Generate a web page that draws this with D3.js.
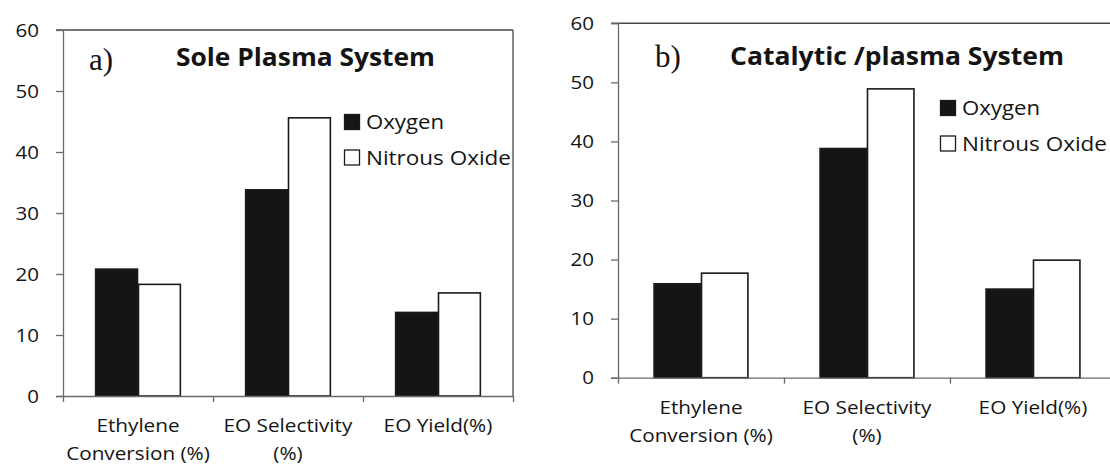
<!DOCTYPE html>
<html>
<head>
<meta charset="utf-8">
<script src="https://cdn.jsdelivr.net/npm/d3@7"></script>
<style>
  html, body { margin: 0; padding: 0; background: #fff; }
  svg { display: block; }
  text { font-family: "Open Sans", "Noto Sans", sans-serif; fill: #141414; }
</style>
</head>
<body>
<svg id="chart" width="1110" height="465"></svg>
<script>
// Category labels (split over lines as on the axis)
const categories = ["Ethylene Conversion (%)", "EO Selectivity (%)", "EO Yield(%)"];
const categoryLines = [["Ethylene", "Conversion (%)"], ["EO Selectivity", "(%)"], ["EO Yield(%)"]];
const seriesNames = ["Oxygen", "Nitrous Oxide"];
const yTicks = [0, 10, 20, 30, 40, 50, 60];

// a) Sole plasma system
const soleOxygen = [20.8, 33.8, 13.7];
const soleNitrous = [18.3, 45.6, 16.9];
// b) Catalytic/plasma system
const catOxygen = [15.9, 38.8, 15.0];
const catNitrous = [17.7, 48.9, 19.9];

const svg = d3.select("#chart");
const LINE = "#6a6a6a";
const STRETCH = 1.12;   // Calibri-like wide set of the labels

function stretchText(sel, factor) {
  sel.each(function () {
    const w = this.getComputedTextLength();
    if (w > 0) {
      d3.select(this).attr("textLength", w * factor).attr("lengthAdjust", "spacingAndGlyphs");
    }
  });
}
function fitText(sel, width) {
  sel.attr("textLength", width).attr("lengthAdjust", "spacingAndGlyphs");
}

function drawPanel(cfg) {
  const g = svg.append("g");
  const { x0, x1, yTop, yZero } = cfg;

  const y = d3.scaleLinear().domain([0, 60]).range([yZero, yTop]);
  const xCat = d3.scaleBand().domain(categories).range([x0, x1]).padding(0);
  const xSub = d3.scaleBand().domain(seriesNames).range([0, xCat.bandwidth()])
    .paddingInner(0).paddingOuter(0.75);
  const xIdx = d3.scaleLinear().domain([0, categories.length]).range([x0, x1]);

  // frame lines (top border, optional right border)
  g.append("line").attr("x1", x0 - 7).attr("x2", cfg.topEnd)
    .attr("y1", y(60)).attr("y2", y(60))
    .attr("stroke", "#4a4a4a").attr("stroke-width", 1.4);
  if (cfg.rightBorder) {
    g.append("line").attr("x1", x1).attr("x2", x1)
      .attr("y1", y(60)).attr("y2", yZero)
      .attr("stroke", "#4a4a4a").attr("stroke-width", 1.3);
  }

  // bars
  const rows = categories.map((c, i) => ({ cat: c, vals: [cfg.oxygen[i], cfg.nitrous[i]] }));
  const grp = g.append("g").selectAll("g").data(rows).join("g")
    .attr("transform", d => `translate(${xCat(d.cat)},0)`);
  grp.selectAll("rect")
    .data(d => d.vals.map((v, k) => ({ name: seriesNames[k], v })))
    .join("rect")
    .attr("x", d => xSub(d.name) + 0.5)
    .attr("width", xSub.bandwidth() - 1)
    .attr("y", d => y(d.v))
    .attr("height", d => yZero - y(d.v))
    .attr("fill", d => d.name === "Oxygen" ? "#151515" : "#ffffff")
    .attr("stroke", "#1a1a1a")
    .attr("stroke-width", 1.6);

  // y axis
  const yAxis = g.append("g").attr("transform", `translate(${x0},0)`)
    .call(d3.axisLeft(y).tickValues(yTicks).tickSize(7).tickSizeOuter(0).tickPadding(17));
  yAxis.select(".domain").attr("stroke", LINE).attr("stroke-width", 1.3);
  yAxis.selectAll(".tick line").attr("stroke", LINE).attr("stroke-width", 1.3);
  yAxis.selectAll(".tick text")
    .style("font-family", '"Open Sans", sans-serif').style("font-size", "19px")
    .attr("fill", "#141414");
  stretchText(yAxis.selectAll(".tick text"), 1.08);

  // x axis (ticks at category boundaries)
  const xAxis = g.append("g").attr("transform", `translate(0,${yZero})`)
    .call(d3.axisBottom(xIdx).tickValues(d3.range(categories.length + 1))
      .tickFormat("").tickSize(6).tickSizeOuter(0));
  xAxis.select(".domain").attr("stroke", LINE).attr("stroke-width", 1.3)
    .attr("d", `M${x0 - 7},0.5H${Math.min(x1, 1110)}`);
  xAxis.selectAll(".tick line").attr("stroke", LINE).attr("stroke-width", 1.3);

  // category labels
  const lab = g.append("g").selectAll("text").data(categories).join("text")
    .attr("x", d => xCat(d) + xCat.bandwidth() / 2)
    .attr("y", yZero + 36)
    .attr("text-anchor", "middle")
    .style("font-size", "18.5px");
  lab.selectAll("tspan").data((d, i) => categoryLines[i]).join("tspan")
    .attr("x", function () { return d3.select(this.parentNode).attr("x"); })
    .attr("dy", (d, i) => i === 0 ? 0 : 28)
    .text(d => d);
  lab.selectAll("tspan").each(function () {
    const w = this.getComputedTextLength();
    d3.select(this).attr("textLength", w * STRETCH).attr("lengthAdjust", "spacingAndGlyphs");
  });

  // panel letter
  g.append("text").attr("x", cfg.letterX).attr("y", cfg.letterY)
    .style("font-family", '"Liberation Serif", "Times New Roman", serif')
    .style("font-size", "31px")
    .text(cfg.letter);

  // title
  const t = g.append("text").attr("x", cfg.titleX).attr("y", cfg.titleY)
    .style("font-size", "25.5px").style("font-weight", "700")
    .text(cfg.title);
  fitText(t, cfg.titleW);

  // legend
  const lg = g.append("g").selectAll("g").data(seriesNames).join("g")
    .attr("transform", (d, i) => `translate(${cfg.legX},${cfg.legY + i * 35.5})`);
  lg.append("rect").attr("x", 0.5).attr("y", 0.5).attr("width", 15).attr("height", 15)
    .attr("fill", d => d === "Oxygen" ? "#151515" : "#fff")
    .attr("stroke", "#1a1a1a").attr("stroke-width", 1.3);
  const lt = lg.append("text").attr("x", 22).attr("y", 15)
    .style("font-size", "20.5px").text(d => d);
  fitText(lt.filter(d => d === "Oxygen"), 78);
  fitText(lt.filter(d => d !== "Oxygen"), 145);
}

drawPanel({
  x0: 63, x1: 513, yTop: 30, yZero: 396, topEnd: 513, rightBorder: true,
  oxygen: soleOxygen, nitrous: soleNitrous,
  letter: "a)", letterX: 89, letterY: 70,
  title: "Sole Plasma System", titleX: 176, titleY: 66, titleW: 259,
  legX: 344, legY: 114
});

drawPanel({
  x0: 618, x1: 1116, yTop: 23.3, yZero: 377.7, topEnd: 1110, rightBorder: false,
  oxygen: catOxygen, nitrous: catNitrous,
  letter: "b)", letterX: 655, letterY: 67,
  title: "Catalytic /plasma System", titleX: 730, titleY: 65, titleW: 334,
  legX: 940, legY: 100
});
</script>
</body>
</html>
